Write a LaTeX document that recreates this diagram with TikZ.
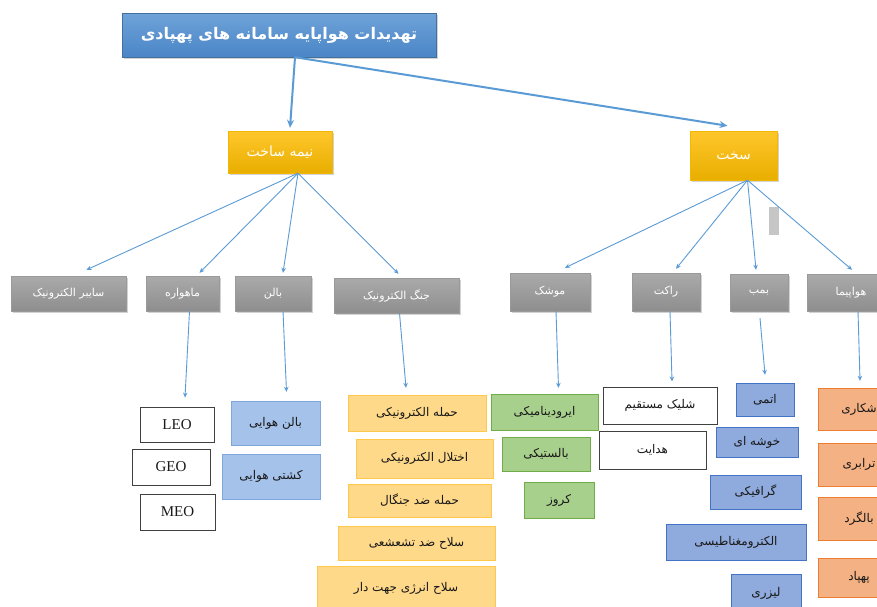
\documentclass[tikz,border=0pt]{standalone}
\usepackage{fontspec}
\usetikzlibrary{arrows.meta,shadows}
\TeXXeTstate=1
\newfontfamily\arabicfont[Script=Arabic]{DejaVu Sans}
\setmainfont{Liberation Serif}
\newcommand\prs[1]{{\arabicfont\beginR #1\endR}}
\definecolor{tblue1}{HTML}{6FA3D9}
\definecolor{tblue2}{HTML}{4A85C6}
\definecolor{tblueb}{HTML}{41719C}
\definecolor{gold1}{HTML}{FFC72C}
\definecolor{gold2}{HTML}{E8AE00}
\definecolor{goldb}{HTML}{F2B800}
\definecolor{gr1}{HTML}{AAAAAA}
\definecolor{gr2}{HTML}{8E8E8E}
\definecolor{grb}{HTML}{9A9A9A}
\definecolor{lbfill}{HTML}{A4C2EA}
\definecolor{lbdraw}{HTML}{7FA7DC}
\definecolor{yfill}{HTML}{FFD98A}
\definecolor{ydraw}{HTML}{FFC84A}
\definecolor{gfill}{HTML}{A8D08D}
\definecolor{gdraw}{HTML}{70AD47}
\definecolor{bfill}{HTML}{8FAADC}
\definecolor{bdraw}{HTML}{4472C4}
\definecolor{sfill}{HTML}{F4B183}
\definecolor{sdraw}{HTML}{ED7D31}
\definecolor{arr}{HTML}{5B9BD5}
\newcommand\mybox[7]{\node[#1, minimum width={(#5-#3)*1pt}, minimum height={(#6-#4)*1pt}] (#2) at ({(#3+#5)/2},{(#4+#6)/2}) {#7};}
\begin{document}
\begin{tikzpicture}[x=1pt,y=-1pt,
  box/.style={draw, inner sep=0pt, font=\fontsize{12}{13}\selectfont},
  shad/.style={drop shadow={opacity=0.35, shadow xshift=1.5pt, shadow yshift=-1.5pt}},
  titlebox/.style={box, shad, top color=tblue1, bottom color=tblue2, draw=tblueb, text=white, font=\fontsize{16}{18}\selectfont\bfseries},
  lvlbox/.style={box, shad, top color=gold1, bottom color=gold2, draw=goldb, text=white, font=\fontsize{14}{16}\selectfont},
  catbox/.style={box, shad, top color=gr1, bottom color=gr2, draw=grb, text=white, font=\fontsize{11}{13}\selectfont},
  wleaf/.style={box, fill=white, draw=black!75, line width=1pt, text=black!90},
  latin/.style={font=\fontsize{15}{17}\selectfont},
  lbleaf/.style={box, fill=lbfill, draw=lbdraw, text=black!90},
  yleaf/.style={box, fill=yfill, draw=ydraw, text=black!90},
  gleaf/.style={box, fill=gfill, draw=gdraw, text=black!90},
  bleaf/.style={box, fill=bfill, draw=bdraw, text=black!90},
  sleaf/.style={box, fill=sfill, draw=sdraw, text=black!90},
  con/.style={draw=arr, line width=0.9pt, -{Stealth[length=5pt,width=4.5pt]}},
  bigcon/.style={draw=arr, line width=2pt, -{Stealth[length=8pt,width=7pt]}}
]
\useasboundingbox (0,0) rectangle (877,606);
\clip (0,0) rectangle (877,606);
\fill[white] (0,0) rectangle (877,606);

\mybox{titlebox}{title}{122}{13}{436}{57}{\prs{تهدیدات هواپایه سامانه های پهپادی}}
\mybox{lvlbox}{semi}{228}{131}{332}{173}{\prs{نیمه ساخت}}
\mybox{lvlbox}{sakht}{690}{131}{777}{180}{\prs{سخت}}

\mybox{catbox}{cyber}{11}{276}{126}{311}{\prs{سایبر الکترونیک}}
\mybox{catbox}{sat}{146}{276}{219}{311}{\prs{ماهواره}}
\mybox{catbox}{balloon}{235}{276}{311}{311}{\prs{بالن}}
\mybox{catbox}{ew}{334}{278}{459}{313}{\prs{جنگ الکترونیک}}
\mybox{catbox}{missile}{510}{273}{590}{311}{\prs{موشک}}
\mybox{catbox}{rocket}{632}{273}{700}{311}{\prs{راکت}}
\mybox{catbox}{bomb}{730}{274}{788}{311}{\prs{بمب}}
\mybox{catbox}{plane}{807}{274}{895}{311}{\prs{هواپیما}}

\fill[gray!45] (769,207) rectangle (779,235);

% leaves
\mybox{wleaf, latin}{leo}{140}{407}{214}{442}{LEO}
\mybox{wleaf, latin}{geo}{132}{449}{210}{485}{GEO}
\mybox{wleaf, latin}{meo}{140}{494}{215}{530}{MEO}

\mybox{lbleaf}{bair}{231}{401}{320}{445}{\prs{بالن هوایی}}
\mybox{lbleaf}{ship}{222}{454}{320}{499}{\prs{کشتی هوایی}}

\mybox{yleaf}{ea}{348}{395}{486}{431}{\prs{حمله الکترونیکی}}
\mybox{yleaf}{ej}{356}{439}{493}{478}{\prs{اختلال الکترونیکی}}
\mybox{yleaf}{aj}{348}{484}{491}{517}{\prs{حمله ضد جنگال}}
\mybox{yleaf}{arm}{338}{526}{495}{560}{\prs{سلاح ضد تشعشعی}}
\mybox{yleaf}{dew}{317}{566}{495}{610}{\prs{سلاح انرژی جهت دار}}

\mybox{gleaf}{aero}{491}{394}{598}{430}{\prs{ایرودینامیکی}}
\mybox{gleaf}{ball}{502}{437}{590}{471}{\prs{بالستیکی}}
\mybox{gleaf}{cruise}{524}{482}{594}{518}{\prs{کروز}}

\mybox{wleaf}{direct}{603}{387}{717}{424}{\prs{شلیک مستقیم}}
\mybox{wleaf}{guided}{599}{431}{706}{469}{\prs{هدایت}}

\mybox{bleaf}{atom}{736}{383}{794}{416}{\prs{اتمی}}
\mybox{bleaf}{cluster}{716}{427}{798}{457}{\prs{خوشه ای}}
\mybox{bleaf}{graph}{710}{475}{801}{509}{\prs{گرافیکی}}
\mybox{bleaf}{emag}{666}{524}{806}{560}{\prs{الکترومغناطیسی}}
\mybox{bleaf}{laser}{731}{574}{801}{612}{\prs{لیزری}}

\mybox{sleaf}{fighter}{818}{388}{900}{430}{\prs{شکاری}}
\mybox{sleaf}{cargo}{818}{443}{900}{486}{\prs{ترابری}}
\mybox{sleaf}{heli}{818}{497}{900}{540}{\prs{بالگرد}}
\mybox{sleaf}{uav}{818}{558}{900}{597}{\prs{پهپاد}}

% top connectors
\draw[bigcon] ([xshift=16pt]title.south) -- ([xshift=10pt,yshift=3pt]semi.north);
\draw[bigcon] ([xshift=16pt]title.south) -- ([xshift=-6pt,yshift=5pt]sakht.north);

% fan from semi
\draw[con] ([xshift=18pt]semi.south) -- ([xshift=18pt,yshift=6pt]cyber.north);
\draw[con] ([xshift=18pt]semi.south) -- ([xshift=17pt,yshift=3pt]sat.north);
\draw[con] ([xshift=18pt]semi.south) -- ([xshift=10pt,yshift=3pt]balloon.north);
\draw[con] ([xshift=18pt]semi.south) -- ([xshift=2pt,yshift=4pt]ew.north);

% fan from sakht
\draw[con] ([xshift=14pt]sakht.south) -- ([xshift=15pt,yshift=5pt]missile.north);
\draw[con] ([xshift=14pt]sakht.south) -- ([xshift=10pt,yshift=4pt]rocket.north);
\draw[con] ([xshift=14pt]sakht.south) -- ([xshift=-3pt,yshift=4pt]bomb.north);
\draw[con] ([xshift=14pt]sakht.south) -- ([xshift=1pt,yshift=4pt]plane.north);

% verticals
\draw[con] ([xshift=7pt]sat.south) -- ([xshift=8pt,yshift=9pt]leo.north);
\draw[con] ([xshift=10pt]balloon.south) -- ([xshift=11pt,yshift=9pt]bair.north);
\draw[con] ([xshift=3pt]ew.south) -- ([xshift=-11pt,yshift=7pt]ea.north);
\draw[con] ([xshift=6pt]missile.south) -- ([xshift=14pt,yshift=6pt]aero.north);
\draw[con] ([xshift=4pt]rocket.south) -- ([xshift=12pt,yshift=5pt]direct.north);
\draw[con] ([xshift=1pt,yshift=-7pt]bomb.south) -- ([yshift=8pt]atom.north);
\draw[con] ([xshift=7pt]plane.south) -- ([xshift=1pt,yshift=7pt]fighter.north);
\end{tikzpicture}
\end{document}
